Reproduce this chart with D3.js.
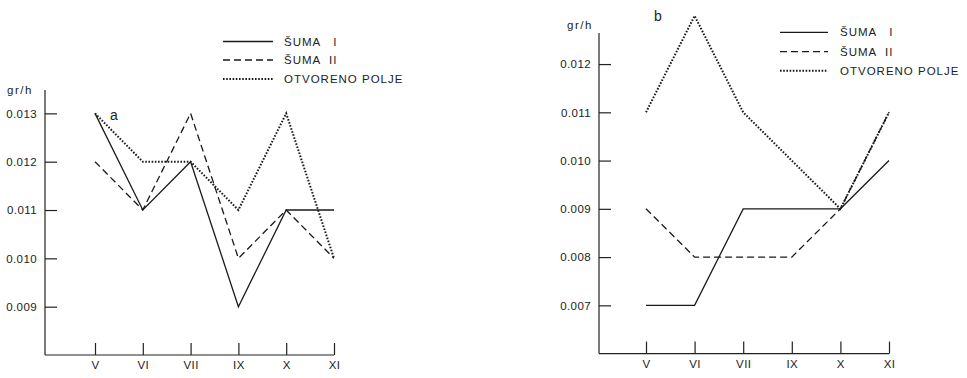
<!DOCTYPE html>
<html>
<head>
<meta charset="utf-8">
<script src="https://cdn.jsdelivr.net/npm/d3@7.9.0/dist/d3.min.js"></script>
<style>
  body { margin: 0; background: #fff; }
  svg { display: block; font-family: "Liberation Sans", Arial, sans-serif; }
  .tick text { font-size: 11.5px; letter-spacing: 0.4px; fill: #222; }
  .leg { font-size: 11.5px; letter-spacing: 1px; fill: #222; white-space: pre; }
</style>
</head>
<body>
<svg id="chart" width="967" height="378"></svg>
<script>
// --- data
const months = ['V', 'VI', 'VII', 'IX', 'X', 'XI'];
const seriesNames = ['ŠUMA   I', 'ŠUMA  II', 'OTVORENO POLJE'];

const sumaI_a   = [0.013, 0.011, 0.012, 0.009, 0.011, 0.011];
const sumaII_a  = [0.012, 0.011, 0.013, 0.010, 0.011, 0.010];
const polje_a   = [0.013, 0.012, 0.012, 0.011, 0.013, 0.010];

const sumaI_b   = [0.007, 0.007, 0.009, 0.009, 0.009, 0.010];
const sumaII_b  = [0.009, 0.008, 0.008, 0.008, 0.009, 0.011];
const polje_b   = [0.011, 0.013, 0.011, 0.010, 0.009, 0.011];

const yTicks_a = [0.009, 0.010, 0.011, 0.012, 0.013];
const yTicks_b = [0.007, 0.008, 0.009, 0.010, 0.011, 0.012];

// line styles: solid, dashed, dotted
const dashes = [null, '7,4', '1.6,1.6'];
const widths = [1.3, 1.3, 2];

const svg = d3.select('#chart');
const fmt = d3.format('.3f');

function panel(cfg) {
  const g = svg.append('g');
  const x = d3.scalePoint().domain(months).range(cfg.xRange);
  const y = d3.scaleLinear().domain(cfg.yDomain).range(cfg.yRange);

  // axis lines
  g.append('line')
    .attr('x1', cfg.axisX).attr('x2', cfg.axisX)
    .attr('y1', y(cfg.yDomain[0])).attr('y2', cfg.axisTop)
    .attr('stroke', '#222').attr('stroke-width', 1.2);
  g.append('line')
    .attr('x1', cfg.axisX).attr('x2', x('XI'))
    .attr('y1', y(cfg.yDomain[0])).attr('y2', y(cfg.yDomain[0]))
    .attr('stroke', '#222').attr('stroke-width', 1.2);

  // y axis: ticks point inward
  const ya = g.append('g')
    .attr('transform', `translate(${cfg.axisX},0)`)
    .call(d3.axisLeft(y).tickValues(cfg.yTicks).tickFormat(fmt)
      .tickSize(-12).tickSizeOuter(0).tickPadding(8));
  ya.select('.domain').remove();
  ya.selectAll('.tick line').attr('stroke', '#222').attr('stroke-width', 1.2);

  // x axis
  const xa = g.append('g')
    .attr('transform', `translate(0,${y(cfg.yDomain[0])})`)
    .call(d3.axisBottom(x).tickSize(-12).tickSizeOuter(0).tickPadding(6));
  xa.select('.domain').remove();
  xa.selectAll('.tick line').attr('stroke', '#222').attr('stroke-width', 1.2);

  // series
  const line = d3.line().x((d, i) => x(months[i])).y(d => y(d));
  cfg.series.forEach((s, k) => {
    g.append('path')
      .attr('d', line(s))
      .attr('fill', 'none')
      .attr('stroke', '#1a1a1a')
      .attr('stroke-width', widths[k])
      .attr('stroke-dasharray', dashes[k]);
  });

  // unit + panel letter
  g.append('text').attr('x', cfg.unitPos[0]).attr('y', cfg.unitPos[1])
    .attr('font-size', 11.5).attr('letter-spacing', 1.5).attr('fill', '#222').text('gr/h');
  g.append('text').attr('x', cfg.letterPos[0]).attr('y', cfg.letterPos[1])
    .attr('font-size', 14).attr('fill', '#222').text(cfg.letter);

  // legend
  seriesNames.forEach((name, k) => {
    const ly = cfg.legY[k];
    g.append('line')
      .attr('x1', cfg.legX[0]).attr('x2', cfg.legX[1])
      .attr('y1', ly).attr('y2', ly)
      .attr('stroke', '#1a1a1a')
      .attr('stroke-width', widths[k])
      .attr('stroke-dasharray', dashes[k]);
    g.append('text').attr('class', 'leg')
      .attr('x', cfg.legX[2]).attr('y', ly + 4).text(name);
  });
}

panel({
  xRange: [95, 334], axisX: 45, axisTop: 90,
  yDomain: [0.008, 0.0135], yRange: [355, 89.2], yTicks: yTicks_a,
  series: [sumaI_a, sumaII_a, polje_a],
  unitPos: [7, 94], letterPos: [110, 120], letter: 'a',
  legX: [223, 273, 284], legY: [41.5, 60, 79]
});

panel({
  xRange: [646, 889], axisX: 599, axisTop: 33,
  yDomain: [0.006, 0.01265], yRange: [353.6, 32.7], yTicks: yTicks_b,
  series: [sumaI_b, sumaII_b, polje_b],
  unitPos: [567, 29], letterPos: [654, 21], letter: 'b',
  legX: [780, 828, 840], legY: [32.3, 51.7, 70.7]
});
</script>
</body>
</html>
